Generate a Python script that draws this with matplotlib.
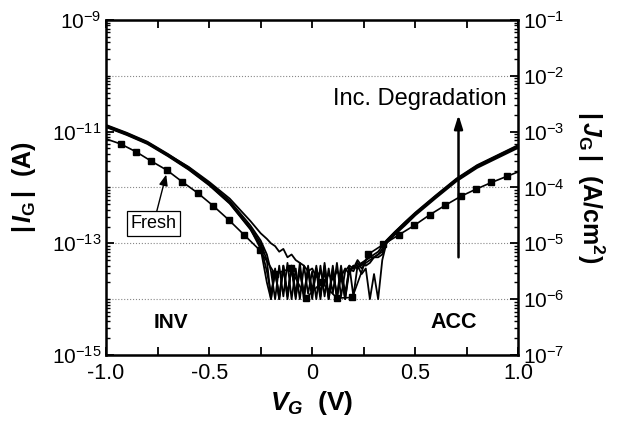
import numpy as np
import matplotlib
matplotlib.use("Agg")
import matplotlib.pyplot as plt
from matplotlib.ticker import LogLocator, MultipleLocator, NullFormatter

plt.rcParams['font.family'] = ['Liberation Sans', 'DejaVu Sans']
plt.rcParams['mathtext.fontset'] = 'custom'
plt.rcParams['mathtext.rm'] = 'Liberation Sans'
plt.rcParams['mathtext.it'] = 'Liberation Sans:italic'
plt.rcParams['mathtext.bf'] = 'Liberation Sans:bold'
plt.rcParams['mathtext.bfit'] = 'Liberation Sans:italic:bold'

# --- datos (log10 |I_G|) ---
x_left = [-1.0, -0.9, -0.8, -0.7, -0.6, -0.5, -0.4, -0.3, -0.25, -0.22]
x_mid = [-0.20, -0.18, -0.16, -0.14, -0.12, -0.10, -0.08, -0.06, -0.04, -0.02,
         0.00, 0.02, 0.04, 0.06, 0.08, 0.10, 0.12, 0.14, 0.16, 0.18,
         0.20, 0.22, 0.24, 0.26, 0.28, 0.30, 0.32]
x_right = [0.34, 0.36, 0.4, 0.45, 0.5, 0.6, 0.7, 0.8, 0.9, 1.0]

deg1 = [-10.88, -11.02, -11.18, -11.40, -11.64, -11.92, -12.24, -12.68, -12.95, -13.2,
        -13.5, -14.0, -13.4, -13.95, -13.35, -14.0, -13.45, -14.0, -13.4, -13.9,
        -13.5, -14.0, -13.4, -13.95, -13.45, -13.9, -13.35, -13.95, -13.5, -13.4,
        -13.45, -13.3, -13.4, -13.3, -13.25, -13.25, -13.2,
        -13.1, -12.95, -12.8, -12.63, -12.46, -12.15, -11.85, -11.61, -11.43, -11.25]
deg2 = [-10.90, -11.04, -11.20, -11.42, -11.66, -11.94, -12.27, -12.72, -13.0, -13.3,
        -14.0, -13.45, -14.0, -13.4, -13.9, -13.45, -14.0, -13.35, -13.95, -13.5,
        -14.0, -13.45, -13.95, -13.4, -14.0, -13.5, -13.95, -13.4, -13.9, -13.45,
        -13.5, -13.35, -13.45, -13.35, -13.3, -13.25, -13.2,
        -13.15, -12.98, -12.83, -12.66, -12.48, -12.17, -11.87, -11.63, -11.45, -11.27]
deg3 = [-10.92, -11.06, -11.22, -11.44, -11.68, -11.96, -12.29, -12.75, -13.05, -13.5,
        -13.9, -13.5, -14.0, -13.45, -13.95, -13.4, -13.9, -13.45, -14.0, -13.4,
        -13.9, -13.5, -14.0, -13.35, -13.95, -13.4, -14.0, -13.45, -14.0, -13.5,
        -13.4, -13.45, -13.35, -13.4, -13.35, -13.25, -13.25,
        -13.2, -13.0, -12.85, -12.68, -12.5, -12.19, -11.89, -11.65, -11.47, -11.29]
deg4 = [-10.91, -11.05, -11.21, -11.43, -11.67, -11.95, -12.28, -12.74, -13.1, -13.7,
        -14.0, -13.5, -13.95, -13.4, -14.0, -13.4, -13.95, -13.5, -13.9, -13.45,
        -13.85, -13.4, -13.9, -13.5, -14.0, -13.45, -13.95, -13.6, -14.0, -13.4,
        -13.95, -13.4, -13.55, -13.45, -14.0, -13.55, -14.0,
        -13.3, -13.0, -12.82, -12.65, -12.47, -12.16, -11.86, -11.62, -11.44, -11.26]
deg5 = [-10.89, -11.03, -11.19, -11.41, -11.63, -11.90, -12.20, -12.60, -12.82, -12.92,
        -13.0, -13.05, -13.15, -13.1, -13.25, -13.2, -13.3, -13.35, -13.4, -13.5,
        -13.45, -13.6, -13.5, -13.7, -13.55, -13.65, -13.5, -13.6, -13.45, -13.55,
        -13.4, -13.45, -13.35, -13.3, -13.25, -13.2, -13.15,
        -13.05, -12.95, -12.8, -12.62, -12.45, -12.14, -11.84, -11.6, -11.42, -11.24]

fresh_x = [-1.0, -0.93, -0.855, -0.78, -0.705, -0.63, -0.555, -0.48, -0.405, -0.33,
           -0.255, -0.18, -0.105, -0.03, 0.045, 0.12, 0.195, 0.27, 0.345, 0.42,
           0.495, 0.57, 0.645, 0.72, 0.795, 0.87, 0.945, 1.0]
fresh_log = [-11.13, -11.22, -11.36, -11.53, -11.69, -11.90, -12.10, -12.33, -12.58, -12.85,
             -13.12, -13.55, -13.45, -13.98, -13.7, -13.98, -13.97, -13.2, -13.02, -12.85,
             -12.68, -12.49, -12.32, -12.16, -12.03, -11.91, -11.80, -11.72]

grid_levels = [1e-10, 1e-12, 1e-13, 1e-14]
left_ticks = [1e-15, 1e-13, 1e-11, 1e-9]
left_labels = ['10$^{-15}$', '10$^{-13}$', '10$^{-11}$', '10$^{-9}$']
right_ticks = [1e-7, 1e-6, 1e-5, 1e-4, 1e-3, 1e-2, 1e-1]
right_labels = ['10$^{-7}$', '10$^{-6}$', '10$^{-5}$', '10$^{-4}$', '10$^{-3}$', '10$^{-2}$', '10$^{-1}$']

fig = plt.figure(figsize=(6.17, 4.34), dpi=100)
ax = fig.add_axes([0.172, 0.182, 0.668, 0.772])

x_deg = x_left + x_mid + x_right
for d in [deg1, deg2, deg3, deg4, deg5]:
    ax.plot(x_deg, 10 ** np.array(d), color='black', lw=1.3, zorder=3)

ax.plot(fresh_x, 10 ** np.array(fresh_log), color='black', lw=1.2, marker='s',
        markersize=5, markevery=slice(1, -1), zorder=4)

for g in grid_levels:
    ax.axhline(g, color='#888888', ls=':', lw=0.8, zorder=1)

ax.set_yscale('log')
ax.set_xlim(-1.0, 1.0)
ax.set_ylim(1e-15, 1e-9)
ax.set_xticks([-1.0, -0.5, 0, 0.5, 1.0])
ax.set_xticklabels(['-1.0', '-0.5', '0', '0.5', '1.0'])
ax.xaxis.set_minor_locator(MultipleLocator(0.25))
ax.set_yticks(left_ticks)
ax.set_yticklabels(left_labels)
ax.yaxis.set_minor_locator(LogLocator(base=10, subs=np.arange(1, 10), numticks=50))
ax.yaxis.set_minor_formatter(NullFormatter())
ax.tick_params(which='both', direction='in', top=True)
ax.tick_params(axis='x', which='both', length=6, width=1.3, pad=6, labelsize=15.5)
ax.tick_params(axis='y', which='major', length=6, width=1.3, labelsize=15)
ax.tick_params(axis='y', which='minor', length=3, width=1.0)
for s in ax.spines.values():
    s.set_linewidth(1.8)

ax2 = ax.twinx()
ax2.set_yscale('log')
ax2.set_ylim(1e-7, 1e-1)
ax2.set_yticks(right_ticks)
ax2.set_yticklabels(right_labels)
ax2.yaxis.set_minor_locator(LogLocator(base=10, subs=np.arange(1, 10), numticks=50))
ax2.yaxis.set_minor_formatter(NullFormatter())
ax2.tick_params(which='both', direction='in', labelsize=15)
ax2.tick_params(which='major', length=6, width=1.3)
ax2.tick_params(which='minor', length=3, width=1.0)

ax.set_xlabel(r'$\mathbfit{V}_{\mathbfit{G}}$  (V)', fontsize=19, fontweight='bold', labelpad=3)
ax.set_ylabel(r'$\mathbf{|}\,\mathbfit{I}_{\mathbf{G}}\,\mathbf{|}$  (A)', fontsize=18,
              fontweight='bold', labelpad=10)
ax2.set_ylabel(r'$\mathbf{|}\,\mathbfit{J}_{\mathbf{G}}\,\mathbf{|}$  (A/cm$^{\mathbf{2}}$)',
               fontsize=18, fontweight='bold', rotation=270, labelpad=30)

ax.text(-0.684, 10 ** -14.41, 'INV', fontsize=15, fontweight='bold', ha='center', va='center')
ax.text(0.685, 10 ** -14.41, 'ACC', fontsize=15.5, fontweight='bold', ha='center', va='center')
ax.text(0.52, 10 ** -10.41, 'Inc. Degradation', fontsize=17, ha='center', va='center')
ax.annotate('', xy=(0.71, 10 ** -10.65), xytext=(0.71, 10 ** -13.3),
            arrowprops=dict(arrowstyle='-|>,head_length=0.8,head_width=0.25', color='black', lw=1.8))
ax.annotate('Fresh', xy=(-0.705, 10 ** -11.72), xytext=(-0.77, 10 ** -12.65),
            fontsize=13, ha='center', va='center',
            bbox=dict(boxstyle='square,pad=0.22', fc='white', ec='black', lw=0.9),
            arrowprops=dict(arrowstyle='-|>,head_length=0.5,head_width=0.2', color='black',
                            lw=1.0, shrinkA=0, shrinkB=2))

fig.savefig('out.png', dpi=100)
